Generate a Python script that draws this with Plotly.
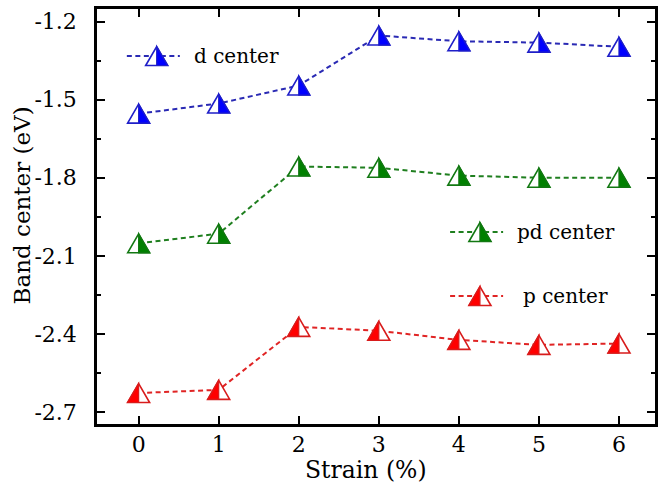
import plotly.graph_objects as go

# ---------------- data ----------------
strain = [0, 1, 2, 3, 4, 5, 6]
d_center = [-1.554, -1.515, -1.446, -1.254, -1.276, -1.281, -1.297]
pd_center = [-2.052, -2.015, -1.757, -1.762, -1.792, -1.800, -1.800]
p_center = [-2.627, -2.615, -2.373, -2.388, -2.423, -2.442, -2.437]

series_names = ["d center", "pd center", "p center"]
y_tickvals = [-2.7, -2.4, -2.1, -1.8, -1.5, -1.2]
y_ticktext = ["-2.7", "-2.4", "-2.1", "-1.8", "-1.5", "-1.2"]
x_ticktext = ["0", "1", "2", "3", "4", "5", "6"]

# ---------------- styles ----------------
FONT = "DejaVu Serif"
styles = [
    dict(y=d_center, line="#2a2ab4", mark="#0000ff", edge="#1f1fc8", half="right"),
    dict(y=pd_center, line="#1f7f1f", mark="#008000", edge="#127812", half="right"),
    dict(y=p_center, line="#e02424", mark="#ff0000", edge="#d81c1c", half="left"),
]

HW, HH = 11, 9.5  # triangle half width / half height in px
OUTLINE = f"M {-HW},{-HH} L 0,{HH} L {HW},{-HH} Z"
RIGHT = f"M 0,{HH} L {HW},{-HH} L 0,{-HH} Z"
LEFT = f"M 0,{HH} L {-HW},{-HH} L 0,{-HH} Z"

fig = go.Figure()
shapes = []


def marker_shapes(xa, ya, st, xref, yref):
    out = [
        dict(type="path", path=OUTLINE, xref=xref, yref=yref, xsizemode="pixel",
             ysizemode="pixel", xanchor=xa, yanchor=ya, fillcolor="white",
             line=dict(color=st["edge"], width=1.6), layer="above"),
        dict(type="path", path=RIGHT if st["half"] == "right" else LEFT, xref=xref,
             yref=yref, xsizemode="pixel", ysizemode="pixel", xanchor=xa, yanchor=ya,
             fillcolor=st["mark"], line=dict(color=st["edge"], width=1.2), layer="above"),
    ]
    return out


for name, st in zip(series_names, styles):
    fig.add_trace(go.Scatter(
        x=strain, y=st["y"], mode="lines", name=name, showlegend=False,
        line=dict(color=st["line"], width=2, dash="5px,3.5px"),
    ))
    for xv, yv in zip(strain, st["y"]):
        shapes += marker_shapes(xv, yv, st, "x", "y")

# ---------------- plot-area geometry (px) ----------------
W, H = 658, 495
L, R, T, B = 97, 0, 9, 71
PW, PH = W - L - R, H - T - B


def px(xp):
    return (xp - L) / PW


def py(yp):
    return (H - B - yp) / PH


# legend: (line start x, y, text x)
legend_pos = [(127, 56, 193), (452, 232, 517), (452, 296, 523)]
annotations = []
for name, st, (lx, ly, tx) in zip(series_names, styles, legend_pos):
    shapes.append(dict(type="line", xref="paper", yref="paper", xsizemode="pixel",
                       ysizemode="pixel", xanchor=px(lx), yanchor=py(ly),
                       x0=0, x1=53, y0=0, y1=0,
                       line=dict(color=st["line"], width=2, dash="5px,3.5px")))
    shapes += marker_shapes(px(lx + 30), py(ly), st, "paper", "paper")
    annotations.append(dict(text=name, xref="paper", yref="paper", x=px(tx), y=py(ly),
                            xanchor="left", yanchor="middle", showarrow=False,
                            font=dict(family=FONT, size=20, color="black")))

annotations.append(dict(text="Band center (eV)", xref="paper", yref="paper",
                        x=px(22), y=py(205), textangle=-90, showarrow=False,
                        xanchor="center", yanchor="middle",
                        font=dict(family=FONT, size=23, color="black")))
annotations.append(dict(text="Strain (%)", xref="paper", yref="paper",
                        x=px(367), y=py(470), showarrow=False,
                        xanchor="center", yanchor="middle",
                        font=dict(family=FONT, size=23.5, color="black")))

axis_common = dict(showgrid=False, zeroline=False, showline=True, linecolor="black",
                   linewidth=2.5, mirror="ticks", ticks="inside", ticklen=8,
                   tickwidth=2, tickcolor="black",
                   tickfont=dict(family=FONT, size=22, color="black"))

fig.update_layout(
    width=W, height=H,
    margin=dict(l=L, r=R, t=T, b=B, pad=0),
    paper_bgcolor="white", plot_bgcolor="white",
    showlegend=False,
    shapes=shapes,
    annotations=annotations,
    xaxis=dict(range=[-0.52, 6.45], tickvals=strain, ticktext=x_ticktext,
               ticklabelstandoff=-1, **axis_common),
    yaxis=dict(range=[-2.746, -1.152], tickvals=y_tickvals, ticktext=y_ticktext,
               ticklabelstandoff=13,
               minor=dict(ticks="inside", dtick=0.15, tick0=-2.7, ticklen=4,
                          tickwidth=2, tickcolor="black", showgrid=False),
               **axis_common),
)

fig.write_html("out.html")
